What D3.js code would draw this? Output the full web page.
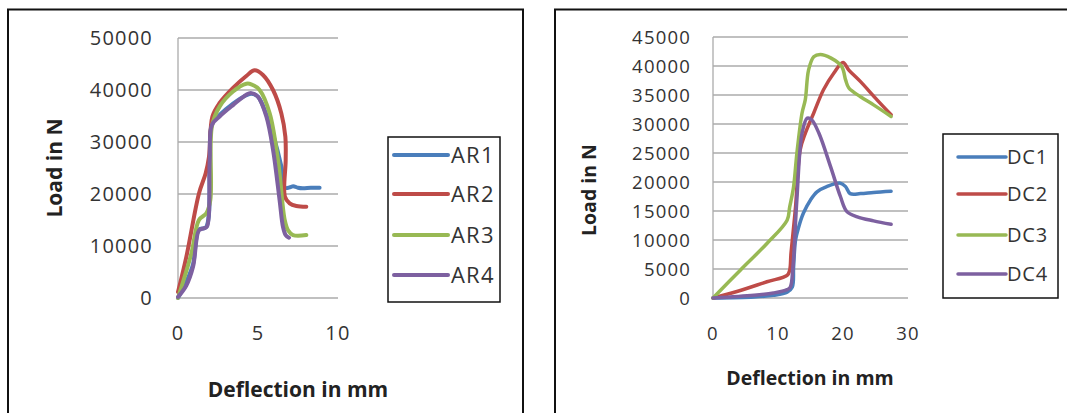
<!DOCTYPE html>
<html><head><meta charset="utf-8">
<script src="https://cdn.jsdelivr.net/npm/d3@7"></script>
<style>
body{margin:0;background:#fff;}
svg{display:block;}
text{font-family:"Open Sans",sans-serif;}
</style></head><body>
<svg id="c" width="1067" height="413"></svg>
<script>
// ---------- data: left chart (AR) ----------
const arNames = ["AR1","AR2","AR3","AR4"];
const arXTicks = [0,5,10];
const arYTicks = [0,10000,20000,30000,40000,50000];
const AR1 = [[0,0],[0.5,3000],[0.94,6500],[1.31,13200],[1.75,13600],[1.98,27000],[2.12,33500],[2.6,35200],[3.44,37400],[4.27,39000],[4.6,39300],[5.0,38700],[5.5,35500],[5.94,31500],[6.46,25300],[6.7,21200],[7.0,21300],[7.2,21500],[7.5,21200],[7.8,21100],[8.3,21200],[8.85,21200]];
const AR2 = [[0,1150],[0.52,7900],[1.31,20100],[1.73,24000],[1.94,27200],[2.15,34900],[2.6,37500],[3.44,40400],[4.27,42700],[4.79,43800],[5.31,42900],[5.94,40000],[6.46,35500],[6.71,31000],[6.73,26500],[6.68,19500],[6.98,18200],[7.4,17700],[8.02,17550]];
const AR3 = [[0,0],[0.83,8500],[1.31,15000],[1.77,16300],[2.02,18800],[2.12,33000],[2.6,36800],[3.44,39700],[4.27,41200],[4.58,41100],[5.1,40000],[5.73,35500],[6.25,26500],[6.67,15000],[6.88,13000],[7.19,12100],[8.02,12100]];
const AR4 = [[0,200],[0.52,2400],[0.94,6000],[1.31,13000],[1.6,13400],[1.81,13700],[1.98,26500],[2.12,33300],[2.6,34900],[3.44,37100],[4.27,39100],[4.58,39400],[5.0,38700],[5.52,34900],[5.94,28500],[6.35,18800],[6.56,13700],[6.73,12100],[6.94,11600]];

// ---------- data: right chart (DC) ----------
const dcNames = ["DC1","DC2","DC3","DC4"];
const dcXTicks = [0,10,20,30];
const dcYTicks = [0,5000,10000,15000,20000,25000,30000,35000,40000,45000];
const DC1 = [[0,0],[6.3,170],[9.3,460],[11.4,1000],[12.2,1900],[12.4,5400],[12.7,10000],[13.2,12300],[13.9,14600],[15.0,16900],[16.0,18300],[17.5,19200],[19.6,19800],[20.4,19200],[21.1,18000],[22.7,18000],[24.7,18200],[27.4,18400]];
const DC2 = [[0,0],[4.2,1300],[8.3,2800],[11.4,3900],[11.8,4800],[12.0,7700],[12.7,15700],[13.4,25500],[14.2,28400],[15.5,31900],[17.0,35900],[18.6,38800],[20.0,40600],[20.9,39300],[22.7,37300],[25.2,34200],[27.4,31600]];
const DC3 = [[0,0],[4.2,4800],[8.3,9400],[11.4,13400],[11.8,15700],[12.4,19200],[12.9,24900],[13.7,31900],[14.2,34200],[14.7,39300],[15.5,41600],[16.5,42000],[18.1,41400],[19.8,39900],[20.4,37600],[20.9,36200],[22.7,34700],[24.7,33300],[27.4,31300]];
const DC4 = [[0,0],[6.3,460],[9.3,860],[11.4,1440],[11.9,1900],[12.3,5400],[12.9,16900],[13.7,28400],[14.5,31000],[15.2,30700],[16.3,28400],[18.1,22600],[19.6,17500],[20.6,14900],[22.2,14000],[24.7,13300],[27.4,12700]];

const colors = ["#4A7EBB","#BE4B48","#98B954","#7D60A0"];
const yTitle = "Load in N", xTitle = "Deflection in mm";

const svg = d3.select("#c");

function panel(cfg){
  const g = svg.append("g");
  g.append("rect").attr("x",cfg.box[0]).attr("y",cfg.box[1]).attr("width",cfg.box[2]).attr("height",cfg.box[3])
    .attr("fill","none").attr("stroke","#111").attr("stroke-width",2);
  const x = d3.scaleLinear().domain(cfg.xd).range(cfg.xr);
  const y = d3.scaleLinear().domain(cfg.yd).range(cfg.yr);
  g.selectAll(".grid").data(cfg.yTicks).join("line")
    .attr("x1",x(cfg.xd[0])).attr("x2",x(cfg.xd[1]))
    .attr("y1",d=>y(d)).attr("y2",d=>y(d))
    .attr("stroke","#ABABAB").attr("stroke-width",1.3);
  g.append("line").attr("x1",x(0)).attr("x2",x(0)).attr("y1",y(cfg.yd[0])).attr("y2",y(cfg.yd[1]))
    .attr("stroke","#ABABAB").attr("stroke-width",1.3);
  g.selectAll(".yt").data(cfg.yTicks).join("text")
    .attr("x",cfg.yLabelX).attr("y",d=>y(d)).attr("dy","0.36em")
    .attr("text-anchor","end").attr("font-size",cfg.fs).attr("letter-spacing",cfg.ls)
    .attr("fill","#333").text(d=>d);
  g.selectAll(".xt").data(cfg.xTicks).join("text")
    .attr("x",d=>x(d)).attr("y",cfg.xLabelY).attr("dy","0.36em")
    .attr("text-anchor","middle").attr("font-size",cfg.fs).attr("letter-spacing",cfg.ls)
    .attr("fill","#333").text(d=>d);
  g.append("text").attr("transform",`translate(${cfg.yTitlePos[0]},${cfg.yTitlePos[1]}) rotate(-90)`)
    .attr("text-anchor","middle").attr("dy","0.36em").attr("font-weight","bold").attr("font-size",cfg.tfs)
    .attr("fill","#222").text(yTitle);
  g.append("text").attr("x",cfg.xTitlePos[0]).attr("y",cfg.xTitlePos[1]).attr("dy","0.36em")
    .attr("text-anchor","middle").attr("font-weight","bold").attr("font-size",cfg.tfs)
    .attr("fill","#222").text(xTitle);
  const line = d3.line().x(d=>x(d[0])).y(d=>y(d[1])).curve(d3.curveCatmullRom.alpha(0.5));
  cfg.series.forEach((s,i)=>{
    g.append("path").attr("d",line(s)).attr("fill","none").attr("stroke",colors[i])
      .attr("stroke-width",cfg.lw).attr("stroke-linejoin","round").attr("stroke-linecap","round");
  });
  const L = cfg.legend;
  g.append("rect").attr("x",L.box[0]).attr("y",L.box[1]).attr("width",L.box[2]).attr("height",L.box[3])
    .attr("fill","#fff").attr("stroke","#111").attr("stroke-width",1.5);
  cfg.names.forEach((n,i)=>{
    const yy = L.ys[i];
    g.append("line").attr("x1",L.lx[0]).attr("x2",L.lx[1]).attr("y1",yy).attr("y2",yy)
      .attr("stroke",colors[i]).attr("stroke-width",L.lw).attr("stroke-linecap","round");
    g.append("text").attr("x",L.tx).attr("y",yy).attr("dy","0.36em").attr("font-size",L.fs)
      .attr("letter-spacing",L.ls).attr("fill","#333").text(n);
  });
}

panel({
  box:[8,9.5,515,420],
  xd:[0,10], xr:[178,338], yd:[0,50000], yr:[298,38],
  xTicks:arXTicks, yTicks:arYTicks, names:arNames, series:[AR1,AR2,AR3,AR4],
  yLabelX:153, xLabelY:333, fs:20, ls:1.2, tfs:21, lw:4,
  yTitlePos:[54,168], xTitlePos:[298,389],
  legend:{box:[388,137,112,165], ys:[155,194,235,275], lx:[394,448], tx:451, fs:22, ls:1.2, lw:4}
});
panel({
  box:[555,9.5,530,420],
  xd:[0,30], xr:[713,908], yd:[0,45000], yr:[298,37],
  xTicks:dcXTicks, yTicks:dcYTicks, names:dcNames, series:[DC1,DC2,DC3,DC4],
  yLabelX:691, xLabelY:333, fs:18.5, ls:1.2, tfs:19.5, lw:3.5,
  yTitlePos:[589,190], xTitlePos:[810,378],
  legend:{box:[943,134,115,164], ys:[157,194,235,274], lx:[958,1006], tx:1007, fs:20, ls:0.8, lw:3.5}
});
</script>
</body></html>
